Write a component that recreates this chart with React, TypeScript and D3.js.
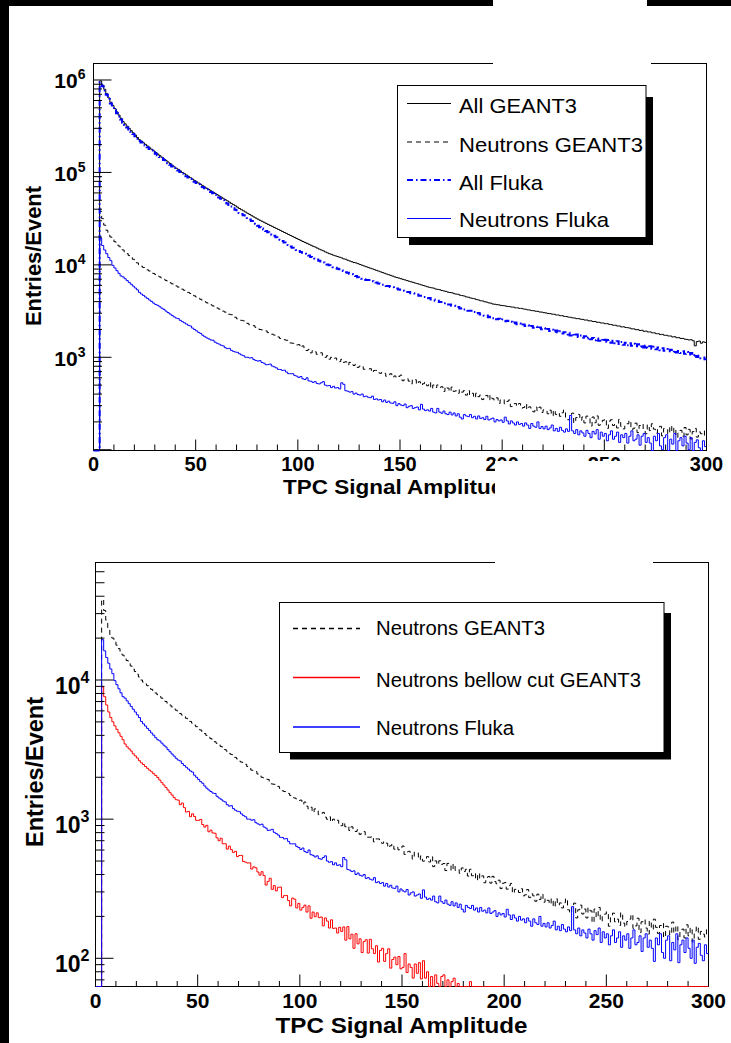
import React from 'react';
import * as d3 from 'd3';

// ---------------- data (entries / event per 1-unit bin, bins 0..299) ----------------
const binCount = 300;
const xTickValues = [0, 50, 100, 150, 200, 250, 300];
const xMinorStep = 10;
const topYLabelExps = [3, 4, 5, 6];
const bottomYLabelExps = [2, 3, 4];
const topLegendLabels = ['All GEANT3', 'Neutrons GEANT3', 'All Fluka', 'Neutrons Fluka'];
const bottomLegendLabels = ['Neutrons GEANT3', 'Neutrons bellow cut GEANT3', 'Neutrons Fluka'];
const xTitle = 'TPC Signal Amplitude';
const yTitle = 'Entries/Event';

const allGeant3 = [
  0, 0, 0, 9.77e5, 8.81e5, 7.94e5, 7.13e5, 6.41e5, 5.75e5, 5.31e5,
  4.90e5, 4.52e5, 4.17e5, 3.85e5, 3.55e5, 3.36e5, 3.17e5, 3.00e5, 2.83e5, 2.68e5,
  2.54e5, 2.39e5, 2.26e5, 2.18e5, 2.09e5, 2.01e5, 1.93e5, 1.85e5, 1.78e5, 1.71e5,
  1.64e5, 1.58e5, 1.52e5, 1.46e5, 1.40e5, 1.35e5, 1.30e5, 1.25e5, 1.20e5, 1.15e5,
  1.11e5, 1.08e5, 1.04e5, 1.00e5, 9.70e4, 9.38e4, 9.06e4, 8.77e4, 8.47e4, 8.20e4,
  7.92e4, 7.67e4, 7.43e4, 7.18e4, 6.95e4, 6.73e4, 6.53e4, 6.32e4, 6.14e4, 5.94e4,
  5.77e4, 5.58e4, 5.42e4, 5.25e4, 5.08e4, 4.93e4, 4.78e4, 4.62e4, 4.48e4, 4.35e4,
  4.21e4, 4.07e4, 3.95e4, 3.84e4, 3.72e4, 3.61e4, 3.51e4, 3.40e4, 3.30e4, 3.21e4,
  3.12e4, 3.04e4, 2.96e4, 2.89e4, 2.81e4, 2.74e4, 2.67e4, 2.61e4, 2.54e4, 2.48e4,
  2.42e4, 2.36e4, 2.30e4, 2.24e4, 2.19e4, 2.13e4, 2.08e4, 2.03e4, 1.98e4, 1.93e4,
  1.88e4, 1.84e4, 1.79e4, 1.75e4, 1.71e4, 1.67e4, 1.63e4, 1.59e4, 1.56e4, 1.52e4,
  1.48e4, 1.45e4, 1.42e4, 1.38e4, 1.35e4, 1.32e4, 1.30e4, 1.27e4, 1.25e4, 1.23e4,
  1.21e4, 1.19e4, 1.16e4, 1.15e4, 1.12e4, 1.10e4, 1.08e4, 1.06e4, 1.05e4, 1.03e4,
  1.01e4, 9910, 9730, 9550, 9380, 9200, 9060, 8890, 8730, 8570,
  8410, 8260, 8110, 7960, 7830, 7690, 7550, 7410, 7290, 7190,
  7080, 6970, 6870, 6760, 6650, 6560, 6460, 6350, 6270, 6170,
  6070, 5980, 5890, 5790, 5710, 5650, 5600, 5480, 5430, 5380,
  5280, 5220, 5170, 5070, 5020, 4990, 4880, 4830, 4800, 4690,
  4650, 4600, 4500, 4470, 4390, 4340, 4300, 4210, 4170, 4090,
  4070, 3990, 3950, 3880, 3850, 3770, 3750, 3710, 3690, 3640,
  3620, 3600, 3550, 3540, 3500, 3490, 3430, 3430, 3380, 3380,
  3330, 3310, 3260, 3250, 3200, 3190, 3150, 3140, 3090, 3080,
  3040, 3020, 2980, 2970, 2930, 2920, 2870, 2870, 2820, 2820,
  2770, 2760, 2720, 2710, 2670, 2660, 2620, 2620, 2580, 2570,
  2530, 2530, 2480, 2480, 2440, 2440, 2390, 2390, 2350, 2350,
  2310, 2310, 2270, 2260, 2220, 2220, 2180, 2180, 2130, 2140,
  2100, 2090, 2070, 2030, 2030, 1990, 1990, 1950, 1960, 1910,
  1920, 1880, 1880, 1840, 1840, 1800, 1800, 1760, 1770, 1730,
  1730, 1700, 1700, 1660, 1670, 1630, 1630, 1600, 1600, 1570,
  1560, 1540, 1550, 1510, 1330, 1480, 1500, 1420, 1470, 1450,
];

const allFluka = [
  0, 0, 0, 9.48e5, 8.55e5, 7.70e5, 6.92e5, 6.22e5, 5.58e5, 5.15e5,
  4.75e5, 4.38e5, 4.04e5, 3.73e5, 3.44e5, 3.26e5, 3.07e5, 2.91e5, 2.75e5, 2.60e5,
  2.46e5, 2.32e5, 2.19e5, 2.11e5, 2.03e5, 1.95e5, 1.87e5, 1.79e5, 1.73e5, 1.66e5,
  1.59e5, 1.53e5, 1.47e5, 1.42e5, 1.36e5, 1.31e5, 1.26e5, 1.21e5, 1.16e5, 1.12e5,
  1.08e5, 1.05e5, 1.01e5, 9.70e4, 9.41e4, 9.10e4, 8.79e4, 8.51e4, 8.22e4, 7.95e4,
  7.68e4, 7.44e4, 7.21e4, 6.96e4, 6.74e4, 6.53e4, 6.33e4, 6.13e4, 5.96e4, 5.75e4,
  5.56e4, 5.37e4, 5.19e4, 5.01e4, 4.82e4, 4.62e4, 4.45e4, 4.27e4, 4.10e4, 3.94e4,
  3.78e4, 3.63e4, 3.56e4, 3.44e4, 3.32e4, 3.21e4, 3.10e4, 2.99e4, 2.88e4, 2.79e4,
  2.65e4, 2.56e4, 2.48e4, 2.41e4, 2.33e4, 2.26e4, 2.19e4, 2.12e4, 2.06e4, 1.99e4,
  1.93e4, 1.87e4, 1.81e4, 1.75e4, 1.69e4, 1.64e4, 1.58e4, 1.53e4, 1.49e4, 1.45e4,
  1.41e4, 1.38e4, 1.35e4, 1.32e4, 1.29e4, 1.26e4, 1.22e4, 1.20e4, 1.17e4, 1.14e4,
  1.11e4, 1.09e4, 1.06e4, 1.04e4, 1.01e4, 9890, 9700, 9450, 9320, 9070,
  8940, 8700, 8580, 8330, 8230, 8000, 7900, 7680, 7560, 7350,
  7260, 7080, 7030, 6860, 6840, 6660, 6650, 6480, 6440, 6280,
  6250, 6100, 6080, 5920, 5900, 5750, 5730, 5580, 5560, 5420,
  5390, 5250, 5240, 5090, 5080, 4940, 4930, 4780, 4780, 4640,
  4630, 4500, 4500, 4360, 4370, 4230, 4230, 4100, 4090, 3960,
  3970, 3840, 3850, 3720, 3730, 3610, 3600, 3480, 3500, 3380,
  3390, 3280, 3290, 3180, 3190, 3080, 3100, 2990, 3010, 2900,
  2910, 2810, 2830, 2720, 2740, 2640, 2670, 2580, 2610, 2520,
  2560, 2450, 2490, 2400, 2420, 2340, 2380, 2280, 2320, 2220,
  2270, 2180, 2220, 2130, 2180, 2090, 2140, 2050, 2100, 2010,
  2060, 1970, 2020, 1930, 1990, 1890, 1950, 1850, 1910, 1810,
  1870, 1760, 1840, 1720, 1800, 1700, 1760, 1660, 1720, 1630,
  1690, 1600, 1640, 1570, 1620, 1530, 1600, 1510, 1580, 1490,
  1550, 1460, 1540, 1440, 1510, 1420, 1490, 1390, 1460, 1370,
  1440, 1350, 1420, 1330, 1400, 1320, 1380, 1300, 1360, 1280,
  1340, 1260, 1320, 1240, 1300, 1220, 1280, 1190, 1250, 1180,
  1230, 1160, 1210, 1140, 1190, 1130, 1170, 1110, 1160, 1090,
  1140, 1070, 1110, 1040, 1080, 1010, 1040, 975, 995, 950,
];

const neutronsGeant3 = [
  0, 0, 0, 3.80e4, 3.16e4, 2.69e4, 2.37e4, 2.11e4, 2.00e4, 1.88e4,
  1.78e4, 1.68e4, 1.60e4, 1.51e4, 1.45e4, 1.38e4, 1.32e4, 1.26e4, 1.20e4, 1.15e4,
  1.10e4, 1.05e4, 1.00e4, 9660, 9380, 9100, 8830, 8570, 8320, 8070,
  7850, 7620, 7410, 7190, 7000, 6790, 6610, 6410, 6240, 6070,
  5920, 5750, 5600, 5460, 5310, 5160, 5040, 4900, 4750, 4620,
  4490, 4370, 4240, 4120, 4000, 3890, 3790, 3700, 3600, 3510,
  3420, 3330, 3270, 3160, 3080, 2970, 2920, 2890, 2780, 2710,
  2610, 2570, 2510, 2480, 2390, 2330, 2250, 2220, 2200, 2110,
  2070, 2000, 1980, 1940, 1930, 1850, 1790, 1780, 1740, 1720,
  1660, 1600, 1580, 1550, 1530, 1480, 1430, 1420, 1400, 1360,
  1370, 1281, 1327, 1240, 1183, 1218, 1117, 1185, 1147, 1077,
  1090, 1118, 1034, 999, 1040, 955, 999, 968, 982, 924,
  897, 951, 882, 894, 828, 881, 841, 816, 839, 778,
  803, 813, 743, 742, 741, 753, 687, 721, 721, 680,
  671, 691, 672, 624, 644, 664, 608, 628, 602, 622,
  641, 558, 581, 587, 552, 516, 580, 572, 511, 544,
  499, 518, 538, 492, 536, 456, 501, 471, 502, 473,
  480, 427, 481, 464, 426, 476, 428, 434, 408, 446,
  420, 436, 390, 436, 392, 408, 364, 408, 375, 391,
  349, 381, 387, 347, 388, 356, 343, 364, 317, 346,
  350, 314, 333, 345, 293, 313, 316, 297, 316, 281,
  286, 312, 273, 291, 281, 257, 289, 265, 289, 253,
  270, 261, 245, 268, 233, 268, 241, 250, 230, 251,
  269, 223, 211, 240, 249, 195, 223, 241, 208, 226,
  195, 231, 219, 180, 226, 196, 232, 184, 200, 208,
  216, 170, 204, 211, 183, 191, 172, 213, 179, 168,
  184, 191, 207, 164, 171, 194, 153, 183, 190, 165,
  149, 186, 161, 191, 167, 151, 172, 179, 141, 170,
  168, 147, 182, 152, 172, 136, 156, 162, 140, 174,
  145, 166, 131, 157, 170, 137, 156, 149, 142, 161,
];

const neutronsFluka = [
  0, 0, 0, 1.95e4, 1.62e4, 1.45e4, 1.32e4, 1.20e4, 1.11e4, 9890,
  9250, 8650, 8090, 7590, 7410, 7080, 6760, 6460, 6170, 5890,
  5620, 5370, 5040, 4840, 4670, 4490, 4330, 4160, 4010, 3850,
  3720, 3650, 3520, 3400, 3300, 3160, 3050, 2940, 2840, 2740,
  2660, 2620, 2510, 2430, 2360, 2290, 2220, 2180, 2070, 2000,
  1930, 1860, 1810, 1730, 1670, 1620, 1580, 1540, 1530, 1460,
  1420, 1390, 1350, 1330, 1270, 1240, 1250, 1190, 1160, 1140,
  1130, 1090, 1060, 1040, 1000, 1000, 982, 990, 944, 925,
  910, 920, 879, 863, 830, 834, 845, 804, 787, 769,
  740, 738, 721, 725, 692, 665, 664, 665, 637, 625,
  605, 620, 585, 575, 600, 555, 550, 535, 545, 520,
  515, 530, 545, 500, 490, 495, 470, 485, 465, 470,
  455, 530, 510, 435, 430, 420, 425, 400, 410, 395,
  390, 400, 375, 380, 370, 365, 380, 350, 355, 345,
  350, 330, 345, 325, 335, 320, 318, 330, 300, 315,
  305, 300, 312, 285, 295, 300, 280, 285, 290, 270,
  310, 275, 265, 270, 262, 280, 255, 250, 280, 255,
  248, 262, 245, 240, 255, 238, 250, 232, 245, 225,
  215, 240, 232, 228, 240, 222, 230, 215, 232, 218,
  222, 212, 230, 210, 215, 220, 200, 212, 205, 210,
  198, 225, 205, 190, 205, 195, 185, 200, 188, 192,
  180, 195, 185, 170, 192, 180, 175, 200, 170, 178,
  168, 180, 165, 172, 185, 160, 170, 158, 175, 162,
  155, 168, 158, 235, 160, 150, 165, 145, 160, 152,
  140, 162, 150, 135, 158, 148, 165, 130, 155, 140,
  150, 125, 145, 160, 130, 140, 155, 120, 145, 135,
  150, 118, 140, 160, 125, 130, 145, 112, 140, 150,
  120, 135, 118, 95, 140, 125, 150, 110, 100, 135,
  145, 96, 130, 115, 150, 93, 125, 135, 110, 140,
  118, 100, 135, 92, 120, 128, 105, 96, 125, 108,
];

const neutronsBelowCutGeant3 = [
  0, 0, 0, 8910, 7590, 6610, 5890, 5370, 5010, 4680,
  4420, 4170, 3940, 3720, 3470, 3310, 3200, 3090, 2950, 2850,
  2750, 2630, 2540, 2470, 2390, 2320, 2250, 2190, 2120, 2060,
  1990, 1910, 1830, 1760, 1690, 1620, 1550, 1490, 1430, 1380,
  1370, 1271, 1306, 1210, 1125, 1137, 1041, 1092, 1045, 980,
  980, 996, 915, 877, 903, 811, 834, 796, 792, 734,
  699, 729, 665, 666, 609, 640, 604, 577, 587, 538,
  548, 549, 496, 491, 484, 485, 438, 454, 447, 417,
  396, 419, 393, 336, 357, 376, 313, 333, 305, 324,
  325, 273, 282, 283, 260, 238, 271, 266, 230, 248,
  222, 232, 241, 215, 238, 194, 215, 199, 212, 196,
  198, 171, 195, 185, 165, 189, 164, 165, 152, 167,
  156, 168, 135, 169, 138, 149, 118, 150, 127, 138,
  110, 132, 136, 109, 137, 117, 108, 123, 94, 114,
  118, 95, 108, 117, 85, 98, 102, 90, 103, 84,
  86, 108, 79, 91, 86, 72, 91, 78, 93, 71,
  96, 72, 80, 58, 74, 52, 76, 66, 55, 74,
  76, 60, 70, 45, 68, 72, 50, 66, 40, 0,
  0, 0, 0, 68, 0, 0, 0, 0, 0, 0,
  0, 0, 0, 0, 0, 0, 0, 0, 0, 0,
  0, 0, 0, 0, 0, 0, 0, 0, 0, 0,
  0, 0, 0, 0, 0, 0, 0, 0, 0, 0,
  0, 0, 0, 0, 0, 0, 0, 0, 0, 0,
  0, 0, 0, 0, 0, 0, 0, 0, 0, 0,
  0, 0, 0, 0, 0, 0, 0, 0, 0, 0,
  0, 0, 0, 0, 0, 0, 0, 0, 0, 0,
  0, 0, 0, 0, 0, 0, 0, 0, 0, 0,
  0, 0, 0, 0, 0, 0, 0, 0, 0, 0,
  0, 0, 0, 0, 0, 0, 0, 0, 0, 0,
  0, 0, 0, 0, 0, 0, 0, 0, 0, 0,
];

// ---------------- styles ----------------
const FONT = "'Liberation Sans', Arial, Helvetica, sans-serif";
const BLUE = '#0000ff';
const RED = '#ff0000';
const BLACK = '#000000';

type LineStyle = { stroke: string; width: number; dash?: string };
const styleAllG3: LineStyle = { stroke: BLACK, width: 1 };
const styleNeutG3: LineStyle = { stroke: BLACK, width: 1, dash: '5,4' };
const styleAllFluka: LineStyle = { stroke: BLUE, width: 2, dash: '6,3,1.5,3' };
const styleNeutFluka: LineStyle = { stroke: BLUE, width: 1 };
const styleNeutCut: LineStyle = { stroke: RED, width: 1 };

type Series = { values: number[]; style: LineStyle };

type PanelCfg = {
  left: number; right: number; top: number; bottom: number;
  yDomain: [number, number];
  yLabelExps: number[];
  yMajorLen: number; yMinorLen: number; xMajorLen: number; xMinorLen: number;
  yLabelRight: number; yLabelDy: number; supDy: number; yLabelSize: number; supSize: number;
  xLabelBaseline: number; xLabelSize: number;
  xTitleCenter: number; xTitleBaseline: number; xTitleSize: number; xTitleLength: number;
  yTitleX: number; yTitleCenter: number; yTitleSize: number; yTitleLength: number;
};

type LegendCfg = {
  box: [number, number, number, number];
  shadow: [number, number, number, number];
  lineX1: number; lineX2: number; textX: number; fontSize: number; sampleWidth: number;
  entries: { label: string; style: LineStyle; lineY: number; baseline: number; length: number }[];
};

function histPath(values: number[], x: d3.ScaleLinear<number, number>, y: d3.ScaleLogarithmic<number, number>, yTop: number, yBottom: number) {
  const yMin = y.domain()[0];
  const pts: [number, number][] = values.map((v, i) => [x(i), v > yMin ? Math.max(yTop, y(v)) : yBottom]);
  pts.push([x(values.length), pts[pts.length - 1][1]]);
  return d3.line().curve(d3.curveStepAfter)(pts) as string;
}

function HistPanel({ cfg, series }: { cfg: PanelCfg; series: Series[] }) {
  const x = d3.scaleLinear().domain([0, binCount]).range([cfg.left, cfg.right]);
  const y = d3.scaleLog().domain(cfg.yDomain).range([cfg.bottom, cfg.top]);
  const [d0, d1] = cfg.yDomain;
  const majors: number[] = [];
  const minors: number[] = [];
  for (let e = Math.floor(Math.log10(d0)); e <= Math.ceil(Math.log10(d1)); e++) {
    const p = Math.pow(10, e);
    if (p >= d0 && p <= d1) majors.push(p);
    for (let m = 2; m < 10; m++) {
      const v = m * p;
      if (v >= d0 && v <= d1) minors.push(v);
    }
  }
  const xMinor = d3.range(0, binCount + 1, xMinorStep).filter((v) => !xTickValues.includes(v));
  return (
    <g>
      <rect x={cfg.left} y={cfg.top} width={cfg.right - cfg.left} height={cfg.bottom - cfg.top} fill="none" stroke={BLACK} strokeWidth={1} />
      {series.map((s, i) => (
        <path key={i} d={histPath(s.values, x, y, cfg.top, cfg.bottom)} fill="none" stroke={s.style.stroke}
          strokeWidth={s.style.width} strokeDasharray={s.style.dash} />
      ))}
      {majors.map((v) => (
        <line key={'M' + v} x1={cfg.left} x2={cfg.left + cfg.yMajorLen} y1={y(v)} y2={y(v)} stroke={BLACK} strokeWidth={1} />
      ))}
      {minors.map((v) => (
        <line key={'m' + v} x1={cfg.left} x2={cfg.left + cfg.yMinorLen} y1={y(v)} y2={y(v)} stroke={BLACK} strokeWidth={1} />
      ))}
      {xTickValues.map((v) => (
        <line key={'X' + v} x1={x(v)} x2={x(v)} y1={cfg.bottom} y2={cfg.bottom - cfg.xMajorLen} stroke={BLACK} strokeWidth={1} />
      ))}
      {xMinor.map((v) => (
        <line key={'x' + v} x1={x(v)} x2={x(v)} y1={cfg.bottom} y2={cfg.bottom - cfg.xMinorLen} stroke={BLACK} strokeWidth={1} />
      ))}
      {xTickValues.map((v) => (
        <text key={'XL' + v} x={x(v)} y={cfg.xLabelBaseline} textAnchor="middle" fontFamily={FONT} fontWeight="bold" fontSize={cfg.xLabelSize}>{v}</text>
      ))}
      {cfg.yLabelExps.map((e) => (
        <text key={'YL' + e} x={cfg.yLabelRight} y={y(Math.pow(10, e)) + cfg.yLabelDy} textAnchor="end" fontFamily={FONT} fontWeight="bold" fontSize={cfg.yLabelSize}>
          10<tspan dy={cfg.supDy} fontSize={cfg.supSize}>{e}</tspan>
        </text>
      ))}
      <text x={cfg.xTitleCenter} y={cfg.xTitleBaseline} textAnchor="middle" fontFamily={FONT} fontWeight="bold" fontSize={cfg.xTitleSize}
        textLength={cfg.xTitleLength} lengthAdjust="spacingAndGlyphs">{xTitle}</text>
      <text transform={`translate(${cfg.yTitleX},${cfg.yTitleCenter}) rotate(-90)`} textAnchor="middle" fontFamily={FONT} fontWeight="bold"
        fontSize={cfg.yTitleSize} textLength={cfg.yTitleLength} lengthAdjust="spacingAndGlyphs">{yTitle}</text>
    </g>
  );
}

function Legend({ cfg }: { cfg: LegendCfg }) {
  const [bx, by, bw, bh] = cfg.box;
  const [sx, sy, sw, sh] = cfg.shadow;
  return (
    <g>
      <rect x={sx} y={sy} width={sw} height={sh} fill={BLACK} />
      <rect x={bx} y={by} width={bw} height={bh} fill="#fff" stroke={BLACK} strokeWidth={1} />
      {cfg.entries.map((en, i) => (
        <g key={i}>
          <line x1={cfg.lineX1} x2={cfg.lineX2} y1={en.lineY} y2={en.lineY} stroke={en.style.stroke}
            strokeWidth={Math.max(en.style.width, cfg.sampleWidth)} strokeDasharray={en.style.dash} />
          <text x={cfg.textX} y={en.baseline} fontFamily={FONT} fontSize={cfg.fontSize} textLength={en.length} lengthAdjust="spacingAndGlyphs">{en.label}</text>
        </g>
      ))}
    </g>
  );
}

const topCfg: PanelCfg = {
  left: 93.5, right: 706.5, top: 63.5, bottom: 450.5,
  yDomain: [98.1, 1.508e6],
  yLabelExps: topYLabelExps,
  yMajorLen: 18, yMinorLen: 8.5, xMajorLen: 11, xMinorLen: 6,
  yLabelRight: 85.5, yLabelDy: 8.5, supDy: -9, yLabelSize: 21, supSize: 14,
  xLabelBaseline: 470.5, xLabelSize: 20,
  xTitleCenter: 400, xTitleBaseline: 494, xTitleSize: 20.5, xTitleLength: 234,
  yTitleX: 40.5, yTitleCenter: 256, yTitleSize: 22, yTitleLength: 140,
};

const bottomCfg: PanelCfg = {
  left: 95.5, right: 708.5, top: 562.5, bottom: 986.5,
  yDomain: [62.7, 69900],
  yLabelExps: bottomYLabelExps,
  yMajorLen: 18, yMinorLen: 9, xMajorLen: 12, xMinorLen: 5.5,
  yLabelRight: 89.5, yLabelDy: 13.5, supDy: -10.5, yLabelSize: 23, supSize: 16,
  xLabelBaseline: 1008, xLabelSize: 21,
  xTitleCenter: 401.5, xTitleBaseline: 1033, xTitleSize: 21.5, xTitleLength: 252,
  yTitleX: 42.5, yTitleCenter: 772, yTitleSize: 23.5, yTitleLength: 150,
};

const topLegend: LegendCfg = {
  box: [397.5, 85.5, 248.5, 152],
  shadow: [409, 97, 244, 148],
  lineX1: 407, lineX2: 451, textX: 459, fontSize: 21, sampleWidth: 1,
  entries: [
    { label: topLegendLabels[0], style: styleAllG3, lineY: 103.5, baseline: 113.3, length: 118 },
    { label: topLegendLabels[1], style: styleNeutG3, lineY: 142, baseline: 151.5, length: 184 },
    { label: topLegendLabels[2], style: styleAllFluka, lineY: 180, baseline: 190, length: 84 },
    { label: topLegendLabels[3], style: styleNeutFluka, lineY: 218.5, baseline: 226.7, length: 150 },
  ],
};

const bottomLegend: LegendCfg = {
  box: [279.5, 602.5, 384.5, 150],
  shadow: [290, 613, 381, 146.5],
  lineX1: 293, lineX2: 360, textX: 376, fontSize: 19.5, sampleWidth: 1.6,
  entries: [
    { label: bottomLegendLabels[0], style: styleNeutG3, lineY: 628.5, baseline: 635, length: 169 },
    { label: bottomLegendLabels[1], style: styleNeutCut, lineY: 677.5, baseline: 686.5, length: 265 },
    { label: bottomLegendLabels[2], style: styleNeutFluka, lineY: 727, baseline: 735, length: 138 },
  ],
};

export default function App() {
  const topSeries: Series[] = [
    { values: allGeant3, style: styleAllG3 },
    { values: neutronsGeant3, style: styleNeutG3 },
    { values: allFluka, style: styleAllFluka },
    { values: neutronsFluka, style: styleNeutFluka },
  ];
  const bottomSeries: Series[] = [
    { values: neutronsGeant3, style: styleNeutG3 },
    { values: neutronsBelowCutGeant3, style: styleNeutCut },
    { values: neutronsFluka, style: styleNeutFluka },
  ];
  return (
    <svg width={731} height={1043} viewBox="0 0 731 1043" style={{ position: 'absolute', left: 0, top: 0, display: 'block' }}>
      <rect x={0} y={0} width={731} height={1043} fill="#fff" />
      <HistPanel cfg={topCfg} series={topSeries} />
      <Legend cfg={topLegend} />
      <HistPanel cfg={bottomCfg} series={bottomSeries} />
      <Legend cfg={bottomLegend} />
      {/* page decorations of the scanned figure */}
      <rect x={0} y={0} width={731} height={6} fill={BLACK} />
      <rect x={0} y={0} width={9} height={1043} fill={BLACK} />
      <rect x={493} y={0} width={154} height={8} fill="#fff" />
      <rect x={493} y={56} width={158} height={12} fill="#fff" />
      <rect x={495} y={461} width={158} height={105} fill="#fff" />
    </svg>
  );
}
